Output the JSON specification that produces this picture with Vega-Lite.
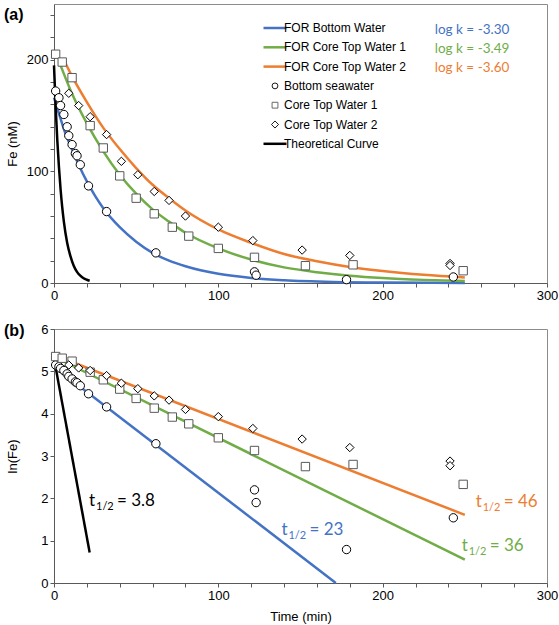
{
  "$schema": "https://vega.github.io/schema/vega-lite/v6.json",
  "background": "white",
  "padding": {"left": 3, "top": 3, "right": 0, "bottom": 0},
  "spacing": 19,
  "config": {
    "view": {"stroke": "#8c8c8c", "strokeWidth": 1},
    "axis": {
      "grid": false,
      "labelFont": "Liberation Sans", "labelFontSize": 13, "labelColor": "#000000",
      "titleFont": "Liberation Sans", "titleFontSize": 13, "titleFontWeight": "normal", "titleColor": "#000000",
      "domainColor": "#595959", "tickColor": "#595959", "tickSize": 4, "labelPadding": 2,
      "labelFlush": false, "labelOverlap": false
    }
  },
  "resolve": {
    "scale": {"color": "independent", "shape": "independent", "fill": "independent"},
    "legend": {"color": "independent", "shape": "independent", "fill": "independent"}
  },
  "datasets": {
    "obs": [
      {"series": "Bottom seawater", "t": 1, "fe": 172, "ln": 5.15},
      {"series": "Bottom seawater", "t": 3, "fe": 166, "ln": 5.11},
      {"series": "Bottom seawater", "t": 4, "fe": 159, "ln": 5.07},
      {"series": "Bottom seawater", "t": 6, "fe": 151, "ln": 5.02},
      {"series": "Bottom seawater", "t": 8, "fe": 140, "ln": 4.94},
      {"series": "Bottom seawater", "t": 9, "fe": 132, "ln": 4.88},
      {"series": "Bottom seawater", "t": 11, "fe": 124, "ln": 4.82},
      {"series": "Bottom seawater", "t": 13, "fe": 116, "ln": 4.75},
      {"series": "Bottom seawater", "t": 14, "fe": 114, "ln": 4.73},
      {"series": "Bottom seawater", "t": 16, "fe": 106, "ln": 4.66},
      {"series": "Bottom seawater", "t": 21, "fe": 87, "ln": 4.47},
      {"series": "Bottom seawater", "t": 32, "fe": 64, "ln": 4.16},
      {"series": "Bottom seawater", "t": 62, "fe": 27, "ln": 3.29},
      {"series": "Bottom seawater", "t": 122, "fe": 10, "ln": 2.2},
      {"series": "Bottom seawater", "t": 123, "fe": 7, "ln": 1.9},
      {"series": "Bottom seawater", "t": 178, "fe": 3, "ln": 0.79},
      {"series": "Bottom seawater", "t": 243, "fe": 5.4, "ln": 1.54},
      {"series": "Core Top Water 1", "t": 1, "fe": 205, "ln": 5.35},
      {"series": "Core Top Water 1", "t": 5, "fe": 198, "ln": 5.31},
      {"series": "Core Top Water 1", "t": 11, "fe": 184, "ln": 5.24},
      {"series": "Core Top Water 1", "t": 22, "fe": 141, "ln": 4.98},
      {"series": "Core Top Water 1", "t": 30, "fe": 121, "ln": 4.8},
      {"series": "Core Top Water 1", "t": 40, "fe": 96, "ln": 4.58},
      {"series": "Core Top Water 1", "t": 50, "fe": 76, "ln": 4.36},
      {"series": "Core Top Water 1", "t": 61, "fe": 62, "ln": 4.13},
      {"series": "Core Top Water 1", "t": 72, "fe": 50, "ln": 3.92},
      {"series": "Core Top Water 1", "t": 82, "fe": 42, "ln": 3.76},
      {"series": "Core Top Water 1", "t": 100, "fe": 31, "ln": 3.43},
      {"series": "Core Top Water 1", "t": 122, "fe": 23, "ln": 3.13},
      {"series": "Core Top Water 1", "t": 153, "fe": 15.5, "ln": 2.75},
      {"series": "Core Top Water 1", "t": 182, "fe": 16.3, "ln": 2.8},
      {"series": "Core Top Water 1", "t": 249, "fe": 11, "ln": 2.33},
      {"series": "Core Top Water 2", "t": 9, "fe": 170, "ln": 5.15},
      {"series": "Core Top Water 2", "t": 15, "fe": 159, "ln": 5.08},
      {"series": "Core Top Water 2", "t": 22, "fe": 149, "ln": 5.02},
      {"series": "Core Top Water 2", "t": 32, "fe": 133, "ln": 4.9},
      {"series": "Core Top Water 2", "t": 41, "fe": 109, "ln": 4.72},
      {"series": "Core Top Water 2", "t": 51, "fe": 97, "ln": 4.59},
      {"series": "Core Top Water 2", "t": 61, "fe": 82, "ln": 4.42},
      {"series": "Core Top Water 2", "t": 70, "fe": 74, "ln": 4.32},
      {"series": "Core Top Water 2", "t": 80, "fe": 60, "ln": 4.1},
      {"series": "Core Top Water 2", "t": 100, "fe": 50, "ln": 3.93},
      {"series": "Core Top Water 2", "t": 121, "fe": 38, "ln": 3.65},
      {"series": "Core Top Water 2", "t": 151, "fe": 29.5, "ln": 3.4},
      {"series": "Core Top Water 2", "t": 180, "fe": 24.7, "ln": 3.2},
      {"series": "Core Top Water 2", "t": 241, "fe": 17.5, "ln": 2.88},
      {"series": "Core Top Water 2", "t": 241, "fe": 15.7, "ln": 2.77}
    ],
    "fitTop": [
      {"series": "FOR Bottom Water", "t": 0, "fe": 166},
      {"series": "FOR Bottom Water", "t": 3, "fe": 152},
      {"series": "FOR Bottom Water", "t": 6, "fe": 138},
      {"series": "FOR Bottom Water", "t": 10, "fe": 123},
      {"series": "FOR Bottom Water", "t": 15, "fe": 106},
      {"series": "FOR Bottom Water", "t": 20, "fe": 91},
      {"series": "FOR Bottom Water", "t": 25, "fe": 78},
      {"series": "FOR Bottom Water", "t": 30, "fe": 67},
      {"series": "FOR Bottom Water", "t": 40, "fe": 50},
      {"series": "FOR Bottom Water", "t": 50, "fe": 37},
      {"series": "FOR Bottom Water", "t": 60, "fe": 27},
      {"series": "FOR Bottom Water", "t": 70, "fe": 20},
      {"series": "FOR Bottom Water", "t": 80, "fe": 15},
      {"series": "FOR Bottom Water", "t": 100, "fe": 8.2},
      {"series": "FOR Bottom Water", "t": 120, "fe": 4.5},
      {"series": "FOR Bottom Water", "t": 140, "fe": 2.5},
      {"series": "FOR Bottom Water", "t": 170, "fe": 1},
      {"series": "FOR Bottom Water", "t": 200, "fe": 0.4},
      {"series": "FOR Bottom Water", "t": 250, "fe": 0.1},
      {"series": "FOR Core Top Water 1", "t": 4, "fe": 195},
      {"series": "FOR Core Top Water 1", "t": 10, "fe": 173},
      {"series": "FOR Core Top Water 1", "t": 20, "fe": 143},
      {"series": "FOR Core Top Water 1", "t": 30, "fe": 118},
      {"series": "FOR Core Top Water 1", "t": 40, "fe": 97},
      {"series": "FOR Core Top Water 1", "t": 50, "fe": 80},
      {"series": "FOR Core Top Water 1", "t": 60, "fe": 66},
      {"series": "FOR Core Top Water 1", "t": 70, "fe": 55},
      {"series": "FOR Core Top Water 1", "t": 80, "fe": 45},
      {"series": "FOR Core Top Water 1", "t": 100, "fe": 31},
      {"series": "FOR Core Top Water 1", "t": 120, "fe": 21},
      {"series": "FOR Core Top Water 1", "t": 140, "fe": 14},
      {"series": "FOR Core Top Water 1", "t": 160, "fe": 9.7},
      {"series": "FOR Core Top Water 1", "t": 180, "fe": 6.6},
      {"series": "FOR Core Top Water 1", "t": 200, "fe": 4.5},
      {"series": "FOR Core Top Water 1", "t": 225, "fe": 2.8},
      {"series": "FOR Core Top Water 1", "t": 250, "fe": 1.7},
      {"series": "FOR Core Top Water 2", "t": 6, "fe": 200},
      {"series": "FOR Core Top Water 2", "t": 10, "fe": 188},
      {"series": "FOR Core Top Water 2", "t": 20, "fe": 162},
      {"series": "FOR Core Top Water 2", "t": 30, "fe": 139},
      {"series": "FOR Core Top Water 2", "t": 40, "fe": 120},
      {"series": "FOR Core Top Water 2", "t": 50, "fe": 103},
      {"series": "FOR Core Top Water 2", "t": 60, "fe": 88},
      {"series": "FOR Core Top Water 2", "t": 70, "fe": 76},
      {"series": "FOR Core Top Water 2", "t": 80, "fe": 65},
      {"series": "FOR Core Top Water 2", "t": 100, "fe": 48},
      {"series": "FOR Core Top Water 2", "t": 120, "fe": 36},
      {"series": "FOR Core Top Water 2", "t": 140, "fe": 26},
      {"series": "FOR Core Top Water 2", "t": 160, "fe": 19.5},
      {"series": "FOR Core Top Water 2", "t": 180, "fe": 14.4},
      {"series": "FOR Core Top Water 2", "t": 200, "fe": 10.7},
      {"series": "FOR Core Top Water 2", "t": 225, "fe": 7.3},
      {"series": "FOR Core Top Water 2", "t": 250, "fe": 5},
      {"series": "Theoretical Curve", "t": 0, "fe": 195},
      {"series": "Theoretical Curve", "t": 1, "fe": 158},
      {"series": "Theoretical Curve", "t": 2, "fe": 128},
      {"series": "Theoretical Curve", "t": 3, "fe": 104},
      {"series": "Theoretical Curve", "t": 4, "fe": 84},
      {"series": "Theoretical Curve", "t": 5, "fe": 68},
      {"series": "Theoretical Curve", "t": 6, "fe": 55},
      {"series": "Theoretical Curve", "t": 8, "fe": 36},
      {"series": "Theoretical Curve", "t": 10, "fe": 24},
      {"series": "Theoretical Curve", "t": 12, "fe": 15.5},
      {"series": "Theoretical Curve", "t": 14, "fe": 10},
      {"series": "Theoretical Curve", "t": 16, "fe": 6.6},
      {"series": "Theoretical Curve", "t": 18, "fe": 4.3},
      {"series": "Theoretical Curve", "t": 20, "fe": 2.9},
      {"series": "Theoretical Curve", "t": 21.7, "fe": 2}
    ],
    "fitBot": [
      {"series": "FOR Bottom Water", "t": 1, "ln": 5.08},
      {"series": "FOR Bottom Water", "t": 171.5, "ln": 0},
      {"series": "FOR Core Top Water 1", "t": 5, "ln": 5.25},
      {"series": "FOR Core Top Water 1", "t": 250, "ln": 0.55},
      {"series": "FOR Core Top Water 2", "t": 9, "ln": 5.25},
      {"series": "FOR Core Top Water 2", "t": 250, "ln": 1.61},
      {"series": "Theoretical Curve", "t": 0.5, "ln": 5.2},
      {"series": "Theoretical Curve", "t": 21.7, "ln": 0.72}
    ],
    "notesTop": [
      {"series": "FOR Bottom Water", "t": 231.7, "fe": 223.2, "label": "log k = -3.30"},
      {"series": "FOR Core Top Water 1", "t": 231.7, "fe": 206, "label": "log k = -3.49"},
      {"series": "FOR Core Top Water 2", "t": 231.7, "fe": 188.7, "label": "log k = -3.60"}
    ],
    "notesBot": [
      {"series": "Theoretical Curve", "t": 21.3, "ln": 1.81, "eq": "= 3.8"},
      {"series": "FOR Bottom Water", "t": 138.4, "ln": 1.14, "eq": "= 23"},
      {"series": "FOR Core Top Water 1", "t": 248.1, "ln": 0.75, "eq": "= 36"},
      {"series": "FOR Core Top Water 2", "t": 256.6, "ln": 1.79, "eq": "= 46"}
    ],
    "panelTop": [{"label": "(a)", "t": -30.4, "fe": 236}],
    "panelBot": [{"label": "(b)", "t": -30.4, "ln": 5.84}]
  },
  "vconcat": [
    {
      "width": 493,
      "height": 279,
      "encoding": {
        "x": {"field": "t", "type": "quantitative", "scale": {"domain": [0, 300], "nice": false},
          "axis": {"title": null, "values": [0,20,40,60,80,100,120,140,160,180,200,220,240,260,280,300], "labelExpr": "datum.value % 100 === 0 ? datum.label : ''"}},
        "y": {"field": "fe", "type": "quantitative", "scale": {"domain": [0, 250], "nice": false},
          "axis": {"title": "Fe (nM)", "titlePadding": 7, "values": [0,20,40,60,80,100,120,140,160,180,200,220,240], "labelExpr": "datum.value % 100 === 0 ? datum.label : ''"}}
      },
      "layer": [
        {"data": {"name": "fitTop"}, "mark": {"type": "line", "interpolate": "monotone", "strokeWidth": 2.5},
          "encoding": {"color": {"field": "series", "type": "nominal",
            "scale": {"domain": ["FOR Bottom Water","FOR Core Top Water 1","FOR Core Top Water 2","Bottom seawater","Core Top Water 1","Core Top Water 2","Theoretical Curve"],
                      "range": ["#4472C4","#70AD47","#ED7D31","#000000","#595959","#000000","#000000"]},
            "legend": {"orient": "none", "legendX": 215, "legendY": 18, "title": null, "padding": 0,
              "symbolSize": 529, "symbolStrokeWidth": 2.5, "labelOffset": 3, "rowPadding": 7.3,
              "symbolFillColor": "white",
              "labelFont": "Liberation Sans", "labelFontSize": 12, "labelColor": "#000000",
              "encode": {"symbols": {"update": {
                "size": {"signal": "datum.value == 'Core Top Water 2' ? 50 : (indexof(['Bottom seawater','Core Top Water 1'], datum.value) >= 0 ? 34 : 529)"},
                "strokeWidth": {"signal": "indexof(['Bottom seawater','Core Top Water 1','Core Top Water 2'], datum.value) >= 0 ? 0.9 : 2.5"},
                "fill": {"value": "white"},
                "opacity": {"value": 1}
              }}}}}}},
        {"data": {"name": "obs"}, "mark": {"type": "point", "filled": false, "fill": "white", "opacity": 1, "size": 70, "strokeWidth": 1},
          "encoding": {
            "color": {"field": "series", "type": "nominal",
              "scale": {"domain": ["FOR Bottom Water","FOR Core Top Water 1","FOR Core Top Water 2","Bottom seawater","Core Top Water 1","Core Top Water 2","Theoretical Curve"],
                        "range": ["#4472C4","#70AD47","#ED7D31","#000000","#595959","#000000","#000000"]}},
            "shape": {"field": "series", "type": "nominal",
              "scale": {"domain": ["FOR Bottom Water","FOR Core Top Water 1","FOR Core Top Water 2","Bottom seawater","Core Top Water 1","Core Top Water 2","Theoretical Curve"],
                        "range": ["stroke","stroke","stroke","circle","square","diamond","stroke"]}}}},
        {"data": {"name": "notesTop"}, "mark": {"type": "text", "align": "left", "baseline": "alphabetic", "font": "Lato", "fontSize": 13.5},
          "encoding": {"text": {"field": "label"},
            "fill": {"field": "series", "type": "nominal", "legend": null,
              "scale": {"domain": ["FOR Bottom Water","FOR Core Top Water 1","FOR Core Top Water 2"], "range": ["#4472C4","#70AD47","#ED7D31"]}}}},
        {"data": {"name": "panelTop"}, "mark": {"type": "text", "align": "left", "baseline": "alphabetic", "font": "Liberation Sans", "fontSize": 16, "fontWeight": "bold", "fill": "#000000"},
          "encoding": {"text": {"field": "label"}}}
      ]
    },
    {
      "width": 493,
      "height": 254,
      "encoding": {
        "x": {"field": "t", "type": "quantitative", "scale": {"domain": [0, 300], "nice": false},
          "axis": {"title": "Time (min)", "titlePadding": 8, "values": [0,20,40,60,80,100,120,140,160,180,200,220,240,260,280,300], "labelExpr": "datum.value % 100 === 0 ? datum.label : ''"}},
        "y": {"field": "ln", "type": "quantitative", "scale": {"domain": [0, 6], "nice": false},
          "axis": {"title": "ln(Fe)", "titlePadding": 21, "values": [0,1,2,3,4,5,6]}},
        "color": {"field": "series", "type": "nominal",
          "scale": {"domain": ["FOR Bottom Water","FOR Core Top Water 1","FOR Core Top Water 2","Bottom seawater","Core Top Water 1","Core Top Water 2","Theoretical Curve"],
                    "range": ["#4472C4","#70AD47","#ED7D31","#000000","#595959","#000000","#000000"]},
          "legend": null}
      },
      "layer": [
        {"data": {"name": "fitBot"}, "mark": {"type": "line", "strokeWidth": 2.5}},
        {"data": {"name": "obs"}, "mark": {"type": "point", "filled": false, "fill": "white", "opacity": 1, "size": 70, "strokeWidth": 1},
          "encoding": {"shape": {"field": "series", "type": "nominal", "legend": null,
            "scale": {"domain": ["FOR Bottom Water","FOR Core Top Water 1","FOR Core Top Water 2","Bottom seawater","Core Top Water 1","Core Top Water 2","Theoretical Curve"],
                      "range": ["stroke","stroke","stroke","circle","square","diamond","stroke"]}}}},
        {"data": {"name": "notesBot"}, "mark": {"type": "text", "align": "left", "baseline": "alphabetic", "font": "Lato", "fontSize": 17},
          "encoding": {"text": {"value": "t"}}},
        {"data": {"name": "notesBot"}, "mark": {"type": "text", "align": "left", "baseline": "alphabetic", "font": "Lato", "fontSize": 11, "dx": 7, "dy": 4},
          "encoding": {"text": {"value": "1/2"}}},
        {"data": {"name": "notesBot"}, "mark": {"type": "text", "align": "left", "baseline": "alphabetic", "font": "Lato", "fontSize": 17, "dx": 28},
          "encoding": {"text": {"field": "eq"}}},
        {"data": {"name": "panelBot"}, "mark": {"type": "text", "align": "left", "baseline": "alphabetic", "font": "Liberation Sans", "fontSize": 16, "fontWeight": "bold"},
          "encoding": {"text": {"field": "label"}, "color": {"value": "#000000"}}}
      ]
    }
  ]
}
